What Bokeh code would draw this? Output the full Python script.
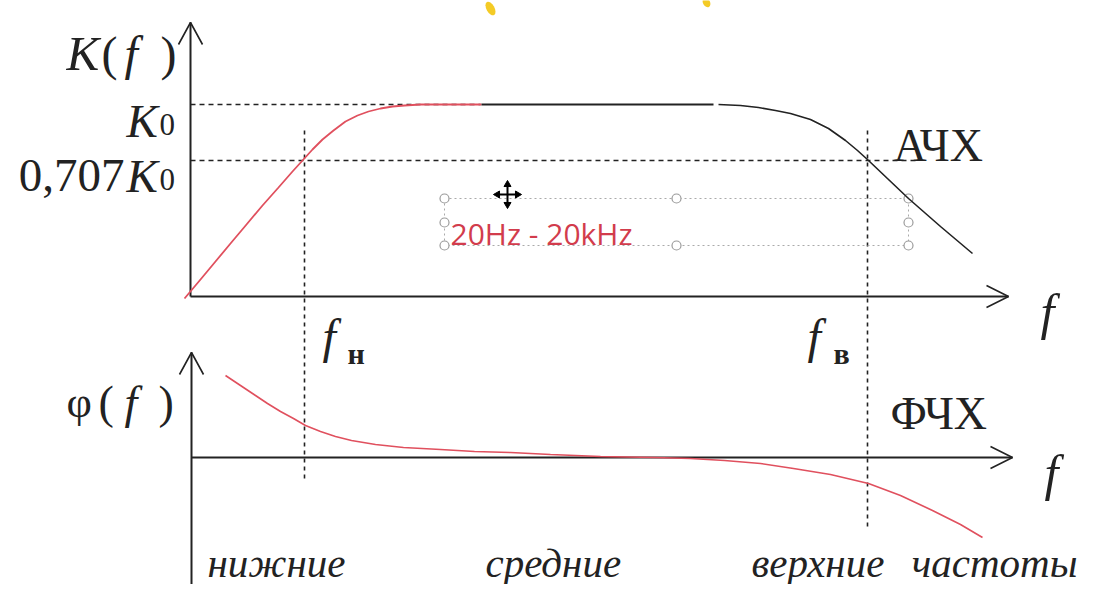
from bokeh.plotting import figure
from bokeh.models import Range1d
from bokeh.core.properties import value
from bokeh.embed import file_html
from bokeh.resources import INLINE

# ---- data (diagram units = reference pixels) ----
# amplitude-frequency response, red (low-frequency) part
afc_red_x = [184, 200, 215, 230, 246, 262, 278, 292, 302, 312, 322, 333, 345, 357, 368, 380, 392, 404, 420, 450, 481]
afc_red_y = [298, 279, 261, 243, 224, 205, 187, 171, 160, 149, 139, 130, 121, 115, 111, 108, 106, 105, 104, 104, 104]
# black flat part
afc_flat_x = [481, 713]
afc_flat_y = [104, 104]
# black roll-off part
afc_hi_x = [718, 740, 758, 775, 790, 810, 828, 845, 857, 868, 888, 908, 940, 972]
afc_hi_y = [104, 105, 107, 110, 113, 119, 128, 140, 150, 160, 179, 198, 226, 253]
# phase-frequency response
pfc_x = [225, 240, 255, 267, 280, 293, 305, 320, 335, 351, 375, 403, 440, 474, 510, 550, 600, 654, 690,
         724, 760, 793, 830, 868, 900, 932, 960, 982]
pfc_y = [375, 385, 395, 403, 411, 418, 425, 431, 436, 440, 444, 447, 449, 451, 452, 454, 456, 457, 458,
         460, 463, 468, 474, 483, 495, 510, 524, 537]

level_K0 = 104
level_707 = 160
f_low = 304
f_high = 867

bottom_labels = ["нижние", "средние", "верхние", "частоты"]
bottom_label_x = [207, 485, 751, 1077]
bottom_label_align = ["left", "left", "left", "right"]
box_text = "20Hz - 20kHz"

# ---- figure ----
p = figure(width=1078, height=584, x_range=Range1d(0, 1078), y_range=Range1d(584, 0),
           output_backend="svg", toolbar_location=None, min_border=0,
           x_axis_location=None, y_axis_location=None)
p.grid.visible = False
p.outline_line_color = None
p.background_fill_color = "white"

INK = "#222222"
RED = "#e0505e"
SERIF = value("Liberation Serif")

# yellow specks at top
p.ellipse(x=[490, 706], y=[8, 2], width=[8, 7], height=[15, 10], angle=[0.5, 0.5],
          fill_color="#f2c200", line_color=None, fill_alpha=0.85)

# dashed guide lines
p.line([190, 480], [level_K0, level_K0], line_color=INK, line_width=1.6, line_dash="5 4")
p.line([190, 917], [level_707, level_707], line_color=INK, line_width=1.6, line_dash="5 4")
p.line([f_low, f_low], [130, 480], line_color=INK, line_width=1.6, line_dash="4 4")
p.line([f_high, f_high], [130, 530], line_color=INK, line_width=1.6, line_dash="4 4")

# text box frame (dotted) with handles
p.line([444, 908, 908, 444, 444], [198, 198, 245, 245, 198], line_color="#aaaaaa", line_width=1, line_dash="2 3")
p.scatter(x=[444, 676, 908, 444, 908, 444, 676, 908], y=[198, 198, 198, 222, 222, 245, 245, 245],
          marker="circle", size=9, fill_color="white", line_color="#9a9a9a", line_width=1.2)
p.text(x=[450], y=[233], text=[box_text], text_font=value("Open Sans"), text_font_size="30px",
       text_color="#d23c4c", text_baseline="alphabetic")

# move cursor icon
p.segment(x0=[497, 507], y0=[194, 184], x1=[517, 507], y1=[194, 204], line_color="black", line_width=2)
p.scatter(x=[507, 507, 497, 517], y=[184, 204, 194, 194], marker="triangle", size=7,
          angle=[0, 3.14159, 1.5708, -1.5708], fill_color="black", line_color="black")

# axes
p.line([190, 190], [22, 296], line_color=INK, line_width=2)
p.line([190, 1008], [296, 296], line_color=INK, line_width=2)
p.line([191, 191], [352, 600], line_color=INK, line_width=2)
p.line([191, 1012], [457, 457], line_color=INK, line_width=2)
p.multi_line(xs=[[178, 190, 202], [986, 1008, 986], [179, 191, 203], [990, 1012, 990]],
             ys=[[44, 22, 44], [285, 296, 307], [374, 352, 374], [446, 457, 468]],
             line_color=INK, line_width=1.6)

# curves
p.line(afc_red_x, afc_red_y, line_color=RED, line_width=1.8)
p.line(afc_flat_x, afc_flat_y, line_color=INK, line_width=1.8)
p.line(afc_hi_x, afc_hi_y, line_color=INK, line_width=1.6)
p.line(pfc_x, pfc_y, line_color=RED, line_width=1.6)


def put(x, y, s, size, style="normal", align="left", color=INK, font=SERIF):
    p.text(x=[x], y=[y], text=[s], text_font=font, text_font_size=size, text_font_style=style,
           text_align=align, text_baseline="alphabetic", text_color=color)


# K(f)
put(66, 53, "K", "49px", "italic")
put(101, 53, "(", "48px")
put(124, 53, "f", "48px", "italic")
put(160, 53, ")", "48px")
# K0
put(126, 120, "K", "47px", "italic")
put(159, 124, "0", "31px")
# 0,707K0
put(124, 175, "0,707", "47px", align="right")
put(126, 175, "K", "47px", "italic")
put(159, 179, "0", "31px")
# АЧХ / ФЧХ
put(893, 145, "АЧХ", "46px")
put(890, 413, "ФЧХ", "46px")
# f axis labels
put(1040, 311, "f", "50px", "italic")
put(1044, 472, "f", "50px", "italic")
# f_н, f_в
put(322, 336, "f", "48px", "italic")
put(347, 353, "н", "30px", "bold")
put(807, 336, "f", "48px", "italic")
put(833, 353, "в", "30px", "bold")
# φ(f)
put(66, 402, "φ", "44px")
put(98, 402, "(", "46px")
put(124, 402, "f", "46px", "italic")
put(158, 402, ")", "46px")
# bottom labels (kept inside the 584px-high canvas)
for s, x, a in zip(bottom_labels, bottom_label_x, bottom_label_align):
    put(x, 562, s, "41px", "italic", align=a)

open("out.html", "w").write(file_html(p, INLINE))
